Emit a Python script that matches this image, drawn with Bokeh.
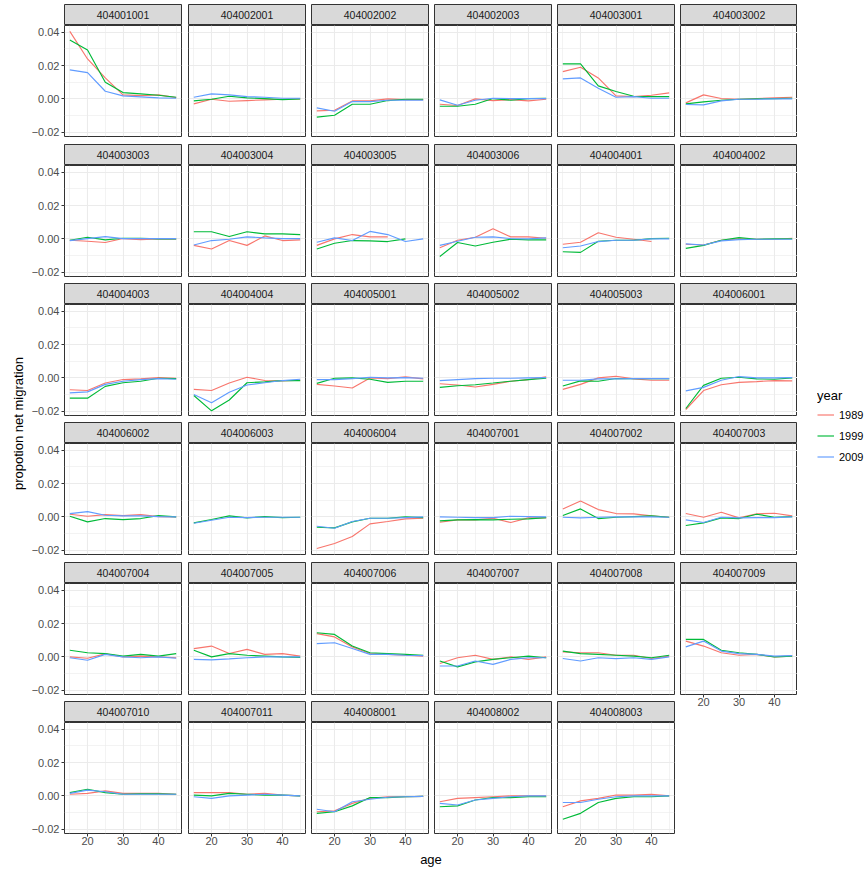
import numpy as np
from bokeh.plotting import figure
from bokeh.layouts import row, column
from bokeh.models import Range1d, FixedTicker, Legend, LegendItem, Div
from bokeh.core.properties import value
from bokeh.embed import file_html
from bokeh.resources import INLINE

NAN = float("nan")

ages = [15, 20, 25, 30, 35, 40, 45]
years = ["1989", "1999", "2009"]
colors = ["#F8766D", "#00BA38", "#619CFF"]

districts = ["404001001", "404002001", "404002002", "404002003", "404003001", "404003002",
             "404003003", "404003004", "404003005", "404003006", "404004001", "404004002",
             "404004003", "404004004", "404005001", "404005002", "404005003", "404006001",
             "404006002", "404006003", "404006004", "404007001", "404007002", "404007003",
             "404007004", "404007005", "404007006", "404007007", "404007008", "404007009",
             "404007010", "404007011", "404008001", "404008002", "404008003"]

y1989 = [
    [0.0406, 0.0240, 0.0126, 0.0024, 0.0020, 0.0024, 0.0008],
    [-0.0030, -0.0002, -0.0014, -0.0010, -0.0006, -0.0002, 0.0000],
    [-0.0072, -0.0068, -0.0012, -0.0012, 0.0000, -0.0004, -0.0004],
    [-0.0032, -0.0040, 0.0000, -0.0010, -0.0004, -0.0012, -0.0002],
    [0.0164, 0.0190, 0.0126, 0.0018, 0.0014, 0.0022, 0.0036],
    [-0.0024, 0.0024, 0.0002, -0.0002, 0.0002, 0.0006, 0.0010],
    [-0.0008, -0.0014, -0.0022, 0.0002, -0.0004, 0.0000, -0.0002],
    [-0.0039, -0.0061, -0.0010, -0.0039, 0.0018, -0.0010, -0.0006],
    [-0.0039, 0.0000, 0.0026, 0.0012, 0.0012, NAN, NAN],
    [-0.0053, -0.0008, 0.0010, 0.0061, 0.0012, 0.0012, 0.0004],
    [-0.0032, -0.0020, 0.0037, 0.0010, -0.0002, -0.0016, NAN],
    [-0.0032, -0.0037, -0.0008, 0.0000, -0.0002, -0.0002, 0.0004],
    [-0.0071, -0.0076, -0.0031, -0.0010, -0.0006, 0.0002, -0.0002],
    [-0.0069, -0.0076, -0.0031, 0.0004, -0.0016, -0.0018, -0.0014],
    [-0.0039, -0.0049, -0.0061, 0.0000, -0.0004, 0.0006, -0.0006],
    [-0.0035, -0.0043, -0.0055, -0.0039, -0.0020, -0.0010, 0.0006],
    [-0.0069, -0.0039, 0.0000, 0.0010, -0.0006, -0.0014, -0.0014],
    [-0.0190, -0.0076, -0.0041, -0.0027, -0.0022, -0.0016, -0.0018],
    [0.0016, 0.0004, 0.0014, 0.0008, 0.0014, 0.0002, 0.0000],
    [NAN, NAN, NAN, NAN, NAN, NAN, NAN],
    [-0.0190, -0.0160, -0.0118, -0.0042, -0.0028, -0.0012, -0.0008],
    [-0.0032, -0.0018, -0.0018, -0.0008, -0.0034, -0.0006, -0.0006],
    [0.0048, 0.0096, 0.0044, 0.0020, 0.0018, 0.0006, -0.0002],
    [0.0020, -0.0002, 0.0028, -0.0006, 0.0018, 0.0022, 0.0006],
    [0.0000, -0.0008, 0.0018, 0.0000, 0.0005, 0.0000, -0.0005],
    [0.0050, 0.0065, 0.0020, 0.0045, 0.0015, 0.0020, 0.0005],
    [0.0140, 0.0120, 0.0060, 0.0020, 0.0015, 0.0010, 0.0005],
    [-0.0040, -0.0005, 0.0010, -0.0015, 0.0000, -0.0015, 0.0000],
    [0.0030, 0.0025, 0.0025, 0.0010, 0.0010, -0.0010, 0.0005],
    [0.0095, 0.0065, 0.0025, 0.0010, 0.0015, 0.0000, 0.0005],
    [0.0010, 0.0015, 0.0030, 0.0015, 0.0015, 0.0015, 0.0010],
    [0.0020, 0.0020, 0.0020, 0.0010, 0.0015, 0.0005, 0.0000],
    [-0.0095, -0.0090, -0.0045, -0.0015, -0.0005, -0.0005, -0.0003],
    [-0.0035, -0.0015, -0.0010, -0.0005, 0.0000, 0.0000, 0.0000],
    [-0.0065, -0.0030, -0.0015, 0.0005, 0.0005, 0.0010, 0.0000],
]

y1999 = [
    [0.0354, 0.0294, 0.0100, 0.0038, 0.0030, 0.0022, 0.0010],
    [-0.0012, -0.0002, 0.0016, 0.0006, 0.0002, -0.0004, 0.0000],
    [-0.0110, -0.0098, -0.0032, -0.0032, -0.0010, -0.0002, -0.0002],
    [-0.0044, -0.0044, -0.0032, 0.0002, -0.0008, 0.0002, 0.0004],
    [0.0210, 0.0210, 0.0078, 0.0044, 0.0016, 0.0014, 0.0014],
    [-0.0030, -0.0018, -0.0008, -0.0002, 0.0000, 0.0002, 0.0004],
    [-0.0008, 0.0010, -0.0006, 0.0004, 0.0004, 0.0000, 0.0000],
    [0.0043, 0.0043, 0.0014, 0.0043, 0.0030, 0.0030, 0.0026],
    [-0.0061, -0.0026, -0.0010, -0.0012, -0.0016, 0.0000, NAN],
    [-0.0106, -0.0022, -0.0043, -0.0020, -0.0002, -0.0006, -0.0006],
    [-0.0077, -0.0081, -0.0014, -0.0008, -0.0008, 0.0002, 0.0004],
    [-0.0057, -0.0039, -0.0008, 0.0008, -0.0002, 0.0000, 0.0000],
    [-0.0122, -0.0122, -0.0051, -0.0029, -0.0020, -0.0002, -0.0004],
    [-0.0106, -0.0198, -0.0133, -0.0029, -0.0024, -0.0016, -0.0016],
    [-0.0033, -0.0002, 0.0000, -0.0008, -0.0027, -0.0020, -0.0020],
    [-0.0057, -0.0047, -0.0041, -0.0031, -0.0020, -0.0010, -0.0002],
    [-0.0049, -0.0018, -0.0020, -0.0004, -0.0004, -0.0004, -0.0004],
    [-0.0184, -0.0045, -0.0002, 0.0004, -0.0006, -0.0008, 0.0000],
    [0.0004, -0.0030, -0.0010, -0.0016, -0.0010, 0.0008, 0.0000],
    [-0.0036, -0.0016, 0.0006, -0.0006, 0.0002, -0.0004, -0.0002],
    [-0.0062, -0.0066, -0.0030, -0.0008, -0.0008, 0.0000, -0.0004],
    [-0.0024, -0.0018, -0.0016, -0.0018, -0.0014, -0.0012, -0.0004],
    [0.0008, 0.0048, -0.0010, -0.0002, 0.0002, 0.0006, -0.0002],
    [-0.0052, -0.0036, -0.0006, -0.0010, 0.0016, -0.0002, 0.0002],
    [0.0040, 0.0025, 0.0020, 0.0005, 0.0015, 0.0005, 0.0020],
    [0.0040, 0.0000, 0.0020, 0.0010, 0.0005, 0.0000, -0.0003],
    [0.0145, 0.0135, 0.0065, 0.0025, 0.0020, 0.0015, 0.0010],
    [-0.0025, -0.0060, -0.0030, -0.0015, -0.0005, 0.0005, -0.0005],
    [0.0035, 0.0020, 0.0015, 0.0010, 0.0005, -0.0005, 0.0010],
    [0.0105, 0.0105, 0.0040, 0.0025, 0.0015, 0.0000, 0.0005],
    [0.0020, 0.0040, 0.0020, 0.0010, 0.0012, 0.0012, 0.0010],
    [0.0005, 0.0000, 0.0015, 0.0010, 0.0005, 0.0005, 0.0000],
    [-0.0105, -0.0095, -0.0060, -0.0010, -0.0010, -0.0005, -0.0003],
    [-0.0065, -0.0060, -0.0025, -0.0010, -0.0010, -0.0005, -0.0005],
    [-0.0140, -0.0105, -0.0040, -0.0015, -0.0005, -0.0005, 0.0000],
]

y2009 = [
    [0.0174, 0.0158, 0.0046, 0.0018, 0.0012, 0.0006, 0.0004],
    [0.0010, 0.0030, 0.0024, 0.0014, 0.0010, 0.0004, 0.0004],
    [-0.0054, -0.0074, -0.0016, -0.0016, -0.0008, -0.0008, -0.0008],
    [-0.0006, -0.0038, -0.0008, 0.0004, 0.0002, 0.0002, 0.0002],
    [0.0120, 0.0126, 0.0064, 0.0010, 0.0014, 0.0004, 0.0004],
    [-0.0034, -0.0036, -0.0012, -0.0002, -0.0002, 0.0000, 0.0000],
    [-0.0010, 0.0002, 0.0014, 0.0002, 0.0002, 0.0002, 0.0002],
    [-0.0037, -0.0010, -0.0002, 0.0012, 0.0006, 0.0002, 0.0002],
    [-0.0020, 0.0006, -0.0010, 0.0045, 0.0026, -0.0016, 0.0000],
    [-0.0039, -0.0014, 0.0010, 0.0012, 0.0002, 0.0000, 0.0006],
    [-0.0053, -0.0043, -0.0016, -0.0008, -0.0008, 0.0000, 0.0000],
    [-0.0030, -0.0037, -0.0012, -0.0004, -0.0002, -0.0002, -0.0002],
    [-0.0090, -0.0084, -0.0039, -0.0020, -0.0010, -0.0004, -0.0008],
    [-0.0100, -0.0149, -0.0086, -0.0043, -0.0029, -0.0016, -0.0008],
    [-0.0010, -0.0010, -0.0004, 0.0004, 0.0000, 0.0002, -0.0002],
    [-0.0016, -0.0010, -0.0004, -0.0002, -0.0002, 0.0000, 0.0002],
    [-0.0014, -0.0014, -0.0006, -0.0006, -0.0004, -0.0004, -0.0004],
    [-0.0078, -0.0057, -0.0014, 0.0008, 0.0000, 0.0000, 0.0002],
    [0.0020, 0.0032, 0.0010, 0.0006, 0.0006, 0.0002, 0.0000],
    [-0.0038, -0.0020, -0.0002, -0.0004, -0.0002, -0.0002, -0.0002],
    [-0.0056, -0.0068, -0.0028, -0.0008, -0.0008, -0.0004, 0.0000],
    [0.0000, -0.0002, -0.0004, -0.0004, 0.0004, 0.0002, 0.0000],
    [-0.0002, -0.0006, -0.0002, 0.0000, 0.0000, 0.0000, -0.0002],
    [-0.0018, -0.0034, -0.0002, -0.0006, -0.0004, -0.0004, 0.0000],
    [-0.0005, -0.0020, 0.0015, 0.0000, -0.0005, 0.0000, -0.0008],
    [-0.0015, -0.0018, -0.0012, -0.0005, 0.0000, 0.0000, 0.0000],
    [0.0080, 0.0085, 0.0050, 0.0015, 0.0015, 0.0010, 0.0008],
    [-0.0055, -0.0055, -0.0025, -0.0045, -0.0015, -0.0005, -0.0005],
    [-0.0010, -0.0025, -0.0005, -0.0010, -0.0005, -0.0015, 0.0000],
    [0.0060, 0.0095, 0.0035, 0.0020, 0.0015, 0.0005, 0.0008],
    [0.0015, 0.0035, 0.0025, 0.0010, 0.0010, 0.0010, 0.0010],
    [-0.0005, -0.0015, 0.0000, 0.0005, 0.0010, 0.0005, 0.0000],
    [-0.0080, -0.0095, -0.0035, -0.0020, -0.0008, -0.0005, -0.0003],
    [-0.0045, -0.0055, -0.0025, -0.0015, -0.0005, 0.0000, 0.0000],
    [-0.0040, -0.0040, -0.0020, -0.0005, 0.0000, 0.0000, 0.0000],
]

x_ticks = [20, 30, 40]
x_minor = [15, 25, 35, 45]
y_ticks = [-0.02, 0.0, 0.02, 0.04]
y_tick_labels = ["\u22120.02", "0.00", "0.02", "0.04"]
y_tick_keys = ["-0.02", "0", "0.02", "0.04"]
y_minor = [-0.01, 0.01, 0.03]
x_title = "age"
y_title = "propotion net migration"
legend_title = "year"

FONT = "Liberation Sans"
NCOL = 6
STRIP_H = 21
PANEL_W = 117
PANEL_H = 111
COL_GAPS = [7, 6, 6, 6, 6, 0]
ROW_GAPS = [8, 7, 7, 8, 7]
TOP = 4
LEFT_AXIS = 38
YLAB_W = 26

series = [y1989, y1999, y2009]
n = len(districts)


def base_fig(fw, fh, col, top=0, bottom=0, xaxis=False, yaxis=False, xr=None, yr=None):
    return figure(frame_width=fw, frame_height=fh,
                  x_range=xr if xr is not None else Range1d(0, 1),
                  y_range=yr if yr is not None else Range1d(0, 1),
                  x_axis_location="below" if xaxis else None,
                  y_axis_location="left" if yaxis else None,
                  min_border_left=LEFT_AXIS if col == 0 else 0,
                  min_border_right=COL_GAPS[col],
                  min_border_top=top, min_border_bottom=bottom,
                  toolbar_location=None, output_backend="svg",
                  border_fill_color="white")


def make_strip(name, col, first_row):
    s = base_fig(PANEL_W, STRIP_H, col, top=TOP if first_row else 0)
    s.grid.visible = False
    s.background_fill_color = "#D9D9D9"
    s.outline_line_color = "#333333"
    s.outline_line_width = 1
    s.text(x=[0.5], y=[0.5], text=[name], text_align="center", text_baseline="middle",
           text_font=value(FONT), text_font_size="10.5px", text_color="#1A1A1A")
    return s


def style_axis(ax):
    ax.axis_line_color = None
    ax.major_tick_line_color = "#333333"
    ax.major_tick_out = 3
    ax.major_tick_in = 0
    ax.minor_tick_line_color = None
    ax.major_label_standoff = 2
    ax.major_label_text_font = FONT
    ax.major_label_text_font_size = "11px"
    ax.major_label_text_color = "#4D4D4D"


def make_panel(i, col, has_x, gap):
    p = base_fig(PANEL_W, PANEL_H, col, bottom=0 if has_x else gap,
                 xaxis=has_x, yaxis=(col == 0),
                 xr=Range1d(13.5, 46.5), yr=Range1d(-0.0226, 0.0441))
    p.background_fill_color = "white"
    p.outline_line_color = "#333333"
    p.outline_line_width = 1
    p.xgrid.ticker = FixedTicker(ticks=x_ticks, minor_ticks=x_minor)
    p.ygrid.ticker = FixedTicker(ticks=y_ticks, minor_ticks=y_minor)
    for g in (p.xgrid, p.ygrid):
        g.grid_line_color = "#EBEBEB"
        g.grid_line_width = 1.1
        g.minor_grid_line_color = "#EBEBEB"
        g.minor_grid_line_width = 0.6
    if has_x:
        p.xaxis.ticker = FixedTicker(ticks=x_ticks)
        style_axis(p.xaxis[0])
        p.xaxis.major_label_standoff = 0
    if col == 0:
        p.yaxis.ticker = FixedTicker(ticks=y_ticks)
        ov = {}
        for t, k, lab in zip(y_ticks, y_tick_keys, y_tick_labels):
            ov[t] = lab
            ov[k] = lab
        p.yaxis.major_label_overrides = ov
        style_axis(p.yaxis[0])
    for ser, c in zip(series, colors):
        p.line(x=np.array(ages, dtype=float), y=np.array(ser[i], dtype=float),
               line_color=c, line_width=1.15)
    return p


cols = []
for c in range(NCOL):
    kids = []
    idxs = list(range(c, n, NCOL))
    for k, i in enumerate(idxs):
        has_x = (i + NCOL) >= n
        kids.append(make_strip(districts[i], c, k == 0))
        kids.append(make_panel(i, c, has_x, ROW_GAPS[k] if k < len(ROW_GAPS) else 0))
    cols.append(column(*kids))

# shared y-axis title: rotated HTML text, vertically centred on the panel block
yl = Div(text=('<span style="display:inline-block; white-space:nowrap; '
               'transform:translateX(5px) rotate(-90deg); font-family:\'Liberation Sans\', Arial, sans-serif; '
               'font-size:13px; line-height:15px; color:#000000;">' + y_title + '</span>'),
         width=YLAB_W, height=850, margin=0,
         styles={"display": "flex", "align-items": "center", "justify-content": "center",
                 "overflow": "visible", "padding": "0px"})

# legend
lg = figure(frame_width=48, frame_height=80, x_range=Range1d(0, 1), y_range=Range1d(0, 1),
            x_axis_location=None, y_axis_location=None, min_border_left=20, min_border_right=0,
            min_border_top=388, min_border_bottom=0, toolbar_location=None, output_backend="svg")
lg.grid.visible = False
lg.outline_line_color = None
items = []
for yr_, c in zip(years, colors):
    r = lg.line(x=[NAN], y=[NAN], line_color=c, line_width=1.15)
    items.append(LegendItem(label=yr_, renderers=[r]))
leg = Legend(items=items, location="top_left", title=legend_title,
             title_text_font=FONT, title_text_font_size="13px", title_text_color="black",
             title_text_font_style="normal", title_standoff=3,
             label_text_font=FONT, label_text_font_size="11px", label_text_color="black",
             glyph_width=17, glyph_height=17, label_height=17, label_standoff=5, spacing=4,
             padding=0, margin=0, border_line_color=None, background_fill_alpha=0)
lg.add_layout(leg)

# shared x-axis title, drawn as an axis label
xl = figure(frame_width=733, frame_height=1, x_range=Range1d(0, 1), y_range=Range1d(0, 1),
            x_axis_location="below", y_axis_location=None, min_border_left=YLAB_W + LEFT_AXIS,
            min_border_right=0, min_border_top=0, min_border_bottom=0,
            toolbar_location=None, output_backend="svg")
xl.grid.visible = False
xl.outline_line_color = None
ax = xl.xaxis[0]
ax.ticker = FixedTicker(ticks=[])
ax.axis_label = x_title
ax.axis_line_color = None
ax.major_tick_line_color = None
ax.minor_tick_line_color = None
ax.major_label_standoff = 0
ax.axis_label_standoff = 0
ax.axis_label_text_font = FONT
ax.axis_label_text_font_size = "13px"
ax.axis_label_text_font_style = "normal"
ax.axis_label_text_color = "black"

layout = column(row(yl, *cols, lg), xl)

open("out.html", "w").write(file_html(layout, INLINE))
